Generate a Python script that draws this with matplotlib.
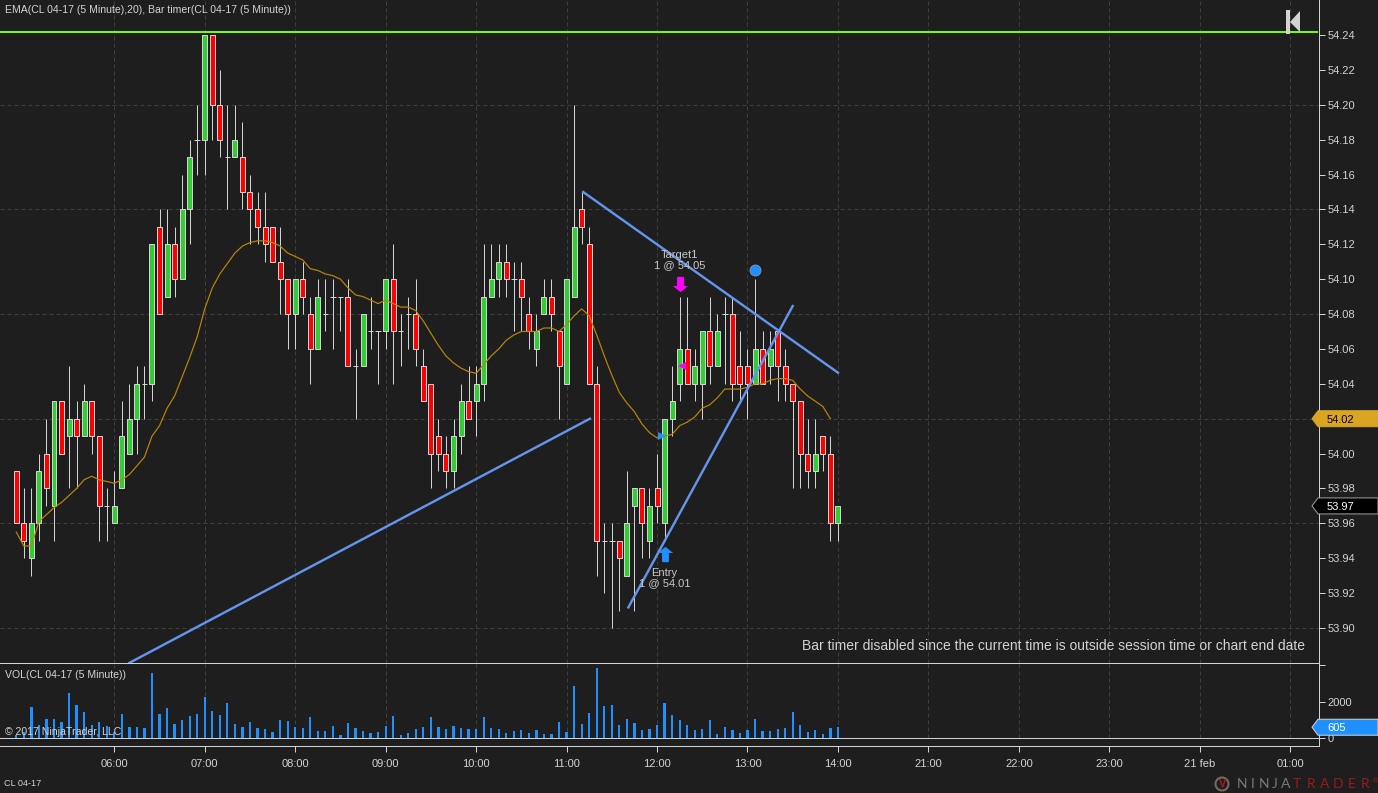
import matplotlib
matplotlib.use('Agg')
import matplotlib.pyplot as plt
from matplotlib.path import Path
from matplotlib.patches import Polygon, Rectangle, Ellipse

plt.rcParams['font.family'] = ['Liberation Sans', 'DejaVu Sans']

# 5 minute bars, first bar is 04:55
opens = [53.99, 53.96, 53.94, 53.96, 54.00, 53.97, 54.03, 54.01, 54.02, 54.01,
         54.03, 54.01, 53.97, 53.96, 53.98, 54.00, 54.02, 54.04, 54.04, 54.13,
         54.09, 54.12, 54.10, 54.14, 54.18, 54.18, 54.24, 54.20, 54.17, 54.17,
         54.17, 54.15, 54.14, 54.13, 54.13, 54.11, 54.10, 54.08, 54.10, 54.08,
         54.06, 54.08, 54.09, 54.09, 54.09, 54.05, 54.05, 54.07, 54.07, 54.07,
         54.10, 54.07, 54.08, 54.08, 54.05, 54.04, 54.01, 54.00, 53.99, 54.01,
         54.03, 54.03, 54.04, 54.09, 54.10, 54.11, 54.10, 54.10, 54.08, 54.06,
         54.08, 54.09, 54.07, 54.04, 54.09, 54.14, 54.12, 54.04, 53.95, 53.95,
         53.95, 53.93, 53.97, 53.98, 53.95, 53.98, 53.96, 54.02, 54.04, 54.06,
         54.04, 54.04, 54.07, 54.05, 54.08, 54.08, 54.05, 54.05, 54.04, 54.06,
         54.05, 54.07, 54.05, 54.04, 54.03, 54.00, 53.99, 54.01, 54.00, 53.96]
closes = [53.96, 53.95, 53.96, 53.99, 53.98, 54.03, 54.00, 54.02, 54.01, 54.03,
          54.01, 53.97, 53.97, 53.97, 54.01, 54.02, 54.04, 54.04, 54.12, 54.08,
          54.12, 54.10, 54.14, 54.17, 54.18, 54.24, 54.20, 54.18, 54.17, 54.18,
          54.15, 54.14, 54.13, 54.12, 54.11, 54.10, 54.08, 54.10, 54.09, 54.06,
          54.09, 54.08, 54.09, 54.09, 54.05, 54.05, 54.08, 54.07, 54.07, 54.10,
          54.07, 54.07, 54.08, 54.06, 54.03, 54.00, 54.00, 53.99, 54.01, 54.03,
          54.02, 54.04, 54.09, 54.10, 54.11, 54.10, 54.10, 54.09, 54.07, 54.07,
          54.09, 54.08, 54.05, 54.10, 54.13, 54.13, 54.04, 53.95, 53.95, 53.95,
          53.94, 53.96, 53.98, 53.96, 53.97, 53.97, 54.02, 54.03, 54.06, 54.04,
          54.05, 54.07, 54.05, 54.07, 54.08, 54.04, 54.04, 54.04, 54.06, 54.04,
          54.06, 54.05, 54.04, 54.03, 54.00, 53.99, 54.00, 54.00, 53.96, 53.97]
highs = [53.99, 53.98, 53.98, 54.00, 54.02, 54.03, 54.03, 54.05, 54.03, 54.04,
         54.03, 54.01, 53.98, 53.99, 54.03, 54.04, 54.05, 54.05, 54.12, 54.14,
         54.14, 54.13, 54.16, 54.18, 54.20, 54.24, 54.24, 54.22, 54.20, 54.20,
         54.19, 54.16, 54.15, 54.15, 54.13, 54.13, 54.10, 54.10, 54.11, 54.09,
         54.10, 54.10, 54.10, 54.09, 54.10, 54.06, 54.08, 54.09, 54.07, 54.10,
         54.12, 54.08, 54.09, 54.10, 54.06, 54.04, 54.02, 54.01, 54.02, 54.04,
         54.05, 54.05, 54.12, 54.12, 54.12, 54.12, 54.11, 54.11, 54.09, 54.08,
         54.10, 54.10, 54.07, 54.10, 54.20, 54.15, 54.13, 54.05, 53.96, 53.96,
         53.95, 53.99, 53.98, 53.98, 53.98, 54.00, 54.02, 54.05, 54.09, 54.09,
         54.06, 54.07, 54.09, 54.08, 54.09, 54.09, 54.07, 54.06, 54.10, 54.07,
         54.07, 54.07, 54.06, 54.04, 54.03, 54.02, 54.02, 54.01, 54.01, 53.97]
lows = [53.96, 53.94, 53.93, 53.95, 53.97, 53.95, 54.00, 53.98, 53.98, 54.01,
        54.00, 53.95, 53.95, 53.96, 53.98, 54.00, 54.00, 54.02, 54.03, 54.08,
        54.09, 54.09, 54.10, 54.12, 54.16, 54.16, 54.18, 54.17, 54.14, 54.17,
        54.14, 54.12, 54.12, 54.11, 54.11, 54.08, 54.06, 54.06, 54.08, 54.04,
        54.06, 54.07, 54.06, 54.07, 54.05, 54.02, 54.05, 54.06, 54.04, 54.06,
        54.04, 54.05, 54.06, 54.05, 54.03, 53.98, 53.99, 53.98, 53.98, 54.00,
        54.02, 54.01, 54.03, 54.09, 54.09, 54.09, 54.07, 54.07, 54.06, 54.05,
        54.08, 54.07, 54.02, 54.04, 54.09, 54.12, 54.04, 53.93, 53.92, 53.90,
        53.91, 53.93, 53.91, 53.94, 53.94, 53.96, 53.95, 54.01, 54.03, 54.04,
        54.03, 54.02, 54.04, 54.05, 54.04, 54.03, 54.03, 54.02, 54.04, 54.04,
        54.04, 54.03, 54.03, 53.98, 53.98, 53.98, 53.98, 53.99, 53.95, 53.95]
volume = [180, 360, 1710, 730, 1055, 1055, 890, 2475, 1820, 1440,
          730, 890, 675, 345, 1330, 620, 620, 565, 3570, 1330,
          1655, 780, 1000, 1220, 1330, 2255, 1490, 1275, 1930, 780,
          620, 890, 565, 510, 345, 1000, 945, 620, 565, 1165,
          400, 400, 675, 180, 835, 565, 400, 290, 345, 675,
          1220, 180, 290, 510, 620, 1165, 620, 510, 675, 565,
          510, 510, 1165, 565, 510, 290, 400, 455, 290, 455,
          235, 235, 890, 345, 2855, 780, 1385, 3840, 1765, 1820,
          730, 1055, 835, 455, 510, 730, 1930, 1275, 1000, 730,
          455, 510, 1000, 235, 620, 455, 290, 455, 1055, 400,
          400, 510, 565, 1440, 730, 345, 455, 235, 565, 605]
ema = [53.955, 53.947, 53.947, 53.961, 53.965, 53.969, 53.972, 53.976, 53.980, 53.985,
       53.987, 53.985, 53.984, 53.983, 53.985, 53.988, 53.993, 53.998, 54.010, 54.016,
       54.026, 54.033, 54.044, 54.055, 54.067, 54.083, 54.095, 54.103, 54.109, 54.115,
       54.119, 54.121, 54.122, 54.122, 54.121, 54.119, 54.115, 54.113, 54.111, 54.106,
       54.105, 54.103, 54.102, 54.100, 54.095, 54.091, 54.090, 54.088, 54.086, 54.088,
       54.086, 54.084, 54.084, 54.082, 54.076, 54.069, 54.062, 54.056, 54.052, 54.049,
       54.047, 54.046, 54.051, 54.056, 54.060, 54.065, 54.068, 54.070, 54.070, 54.070,
       54.072, 54.072, 54.070, 54.074, 54.079, 54.083, 54.079, 54.068, 54.056, 54.045,
       54.035, 54.029, 54.024, 54.017, 54.012, 54.009, 54.010, 54.011, 54.016, 54.018,
       54.021, 54.026, 54.028, 54.032, 54.037, 54.037, 54.037, 54.038, 54.040, 54.040,
       54.042, 54.043, 54.043, 54.042, 54.037, 54.033, 54.030, 54.027, 54.020]

xtick_bars = [13, 25, 37, 49, 61, 73, 85, 97, 109, 121, 133, 145, 157, 169]
xtick_labels = ['06:00', '07:00', '08:00', '09:00', '10:00', '11:00', '12:00', '13:00', '14:00',
                '21:00', '22:00', '23:00', '21 feb', '01:00']
price_ticks = [53.90, 53.92, 53.94, 53.96, 53.98, 54.00, 54.02, 54.04, 54.06, 54.08, 54.10,
               54.12, 54.14, 54.16, 54.18, 54.20, 54.22, 54.24]
grid_prices = [53.90, 53.96, 54.02, 54.08, 54.14, 54.20]

# drawing objects on the chart
green_level = 54.2417
line_a_x, line_a_y = [15.0, 76.1], [53.880, 54.020]
line_b_x, line_b_y = [75.2, 109.0], [54.150, 54.0464]
line_c_x, line_c_y = [81.2, 103.0], [53.9118, 54.0846]
dot_x, dot_y = 98, 54.105
target_x, target_y = 88, 54.0972
entry_x, entry_y = 86, 53.9427
fill_target_x, fill_target_y = 88.3, 54.05
fill_entry_x, fill_entry_y = 85.6, 54.01

BG = '#1e1e1e'
GRID = '#3e3e3e'
FG = '#d3d3d3'
W, H = 1378, 793
PX = 0.72  # one pixel in points at dpi 100
SPLIT = 663  # pixel row between the two panes


def fx(x):
    return x / W


def fy(y):
    return 1 - y / H


def bar_xlim():
    return (0 - 16.3) / 7.538, (1318.5 - 16.3) / 7.538


fig = plt.figure(figsize=(13.78, 7.93), dpi=100, facecolor=BG)
ax = fig.add_axes([0, fy(SPLIT), fx(1318.5), SPLIT / H], facecolor=BG)
vol = fig.add_axes([0, fy(746), fx(1318.5), (746 - SPLIT) / H], facecolor=BG)

# price pane
ax.set_xlim(*bar_xlim())
ax.set_ylim(54.24 - (SPLIT - 35) / 1744.1, 54.24 + 35 / 1744.1)
vol.set_xlim(*bar_xlim())
vol.set_ylim(-421, 4115)

for y in grid_prices:
    ax.axhline(y, color=GRID, lw=1 * PX, ls=(0, (4, 3)), zorder=1)
for x in xtick_bars:
    ax.axvline(x, color=GRID, lw=1 * PX, ls=(0, (4, 3)), zorder=1)
    vol.plot([x, x], [0, 4115], color=GRID, lw=1 * PX, ls=(0, (4, 3)), zorder=1)

for i in range(len(opens)):
    o, h, l, c = opens[i], highs[i], lows[i], closes[i]
    ax.vlines(i, l, h, color=FG, lw=1 * PX, zorder=2, snap=True)
    if o == c:
        ax.hlines(o, i - 0.36, i + 0.36, color=FG, lw=1 * PX, zorder=2, snap=True)
    else:
        col = '#32cd32' if c > o else '#ff0000'
        ax.bar(i, abs(c - o), bottom=min(o, c), width=0.66, color=col,
               edgecolor=FG, linewidth=1 * PX, zorder=3)

ax.plot(range(len(ema)), ema, color='#b8860b', lw=1.2 * PX, zorder=4)
ax.axhline(green_level, color='#7cfc00', lw=2 * PX, xmax=0.9985, zorder=4)

for xs, ys in [(line_a_x, line_a_y), (line_b_x, line_b_y), (line_c_x, line_c_y)]:
    ax.plot(xs, ys, color='#6495ed', lw=2.4 * PX, zorder=5)

ax.plot([dot_x], [dot_y], 'o', color='#1e90ff', mec='#9a9a9a', mew=0.5, ms=8, zorder=6)

arrow_up = Path([(-1, 0.2), (0, 1), (1, 0.2), (0.45, 0.2), (0.45, -1), (-0.45, -1), (-0.45, 0.2), (-1, 0.2)])
arrow_down = Path([(-1, -0.2), (0, -1), (1, -0.2), (0.45, -0.2), (0.45, 1), (-0.45, 1), (-0.45, -0.2), (-1, -0.2)])
ax.plot([target_x], [target_y], marker=arrow_down, color='#ff00ff', mew=0, ms=11, zorder=6)
ax.plot([entry_x], [entry_y], marker=arrow_up, color='#1e90ff', mew=0, ms=11, zorder=6)
ax.plot([fill_target_x], [fill_target_y], marker='<', color='#ff00ff', mew=0, ms=6, zorder=6)
ax.plot([fill_entry_x], [fill_entry_y], marker='>', color='#1e90ff', mew=0, ms=6, zorder=6)

ax.text(target_x, 54.111, 'Target1\n1 @ 54.05', color='#c8c8c8', fontsize=8, ha='center', va='center',
        linespacing=1.1, zorder=7)
ax.text(entry_x, 53.9287, 'Entry\n1 @ 54.01', color='#c8c8c8', fontsize=8, ha='center', va='center',
        linespacing=1.1, zorder=7)

ax.set_yticks(price_ticks)
ax.set_yticklabels(['%.2f' % p for p in price_ticks])
ax.yaxis.tick_right()
ax.set_xticks([])
ax.tick_params(axis='y', colors=FG, length=4.2, width=1 * PX, pad=2.5, labelsize=8)
for s in ['left', 'top', 'bottom']:
    ax.spines[s].set_visible(False)
ax.spines['right'].set_color(FG)
ax.spines['right'].set_linewidth(1 * PX)

# volume pane
vol.bar(range(len(volume)), volume, width=0.3, color='#1e90ff', zorder=3)
vol.axhline(0, color=FG, lw=1 * PX, zorder=4)
vol.set_yticks([0, 2000, 4000])
vol.set_yticklabels(['0', '2000', ''])
vol.yaxis.tick_right()
vol.set_xticks(xtick_bars)
vol.set_xticklabels(xtick_labels)
vol.tick_params(axis='y', colors=FG, length=4.2, width=1 * PX, pad=2.5, labelsize=8)
vol.tick_params(axis='x', colors=FG, length=4.2, width=1 * PX, pad=5.5, labelsize=8)
vol.spines['left'].set_visible(False)
for s in ['right', 'bottom', 'top']:
    vol.spines[s].set_color(FG)
    vol.spines[s].set_linewidth(1 * PX)


# price tags on the right side
def tag(axis, value, label, face, edge, txt):
    y = H - axis.transData.transform((0, value))[1]
    pts = [(1312, y), (1318, y - 8), (1378, y - 8), (1378, y + 8), (1318, y + 8)]
    fig.add_artist(Polygon([(fx(a), fy(b)) for a, b in pts], closed=True, facecolor=face,
                           edgecolor=edge, lw=1 * PX, transform=fig.transFigure, zorder=8))
    fig.text(fx(1327), fy(y), label, color=txt, fontsize=8, va='center_baseline', ha='left', zorder=9)


tag(ax, ema[-1], '54.02', '#daa520', '#daa520', '#000000')
tag(ax, closes[-1], '53.97', '#000000', '#a0a0a0', '#ffffff')
tag(vol, volume[-1], '605', '#1e90ff', '#d3d3d3', '#ffffff')

# captions
fig.text(fx(5), fy(10), 'EMA(CL 04-17 (5 Minute),20), Bar timer(CL 04-17 (5 Minute))', color=FG,
         fontsize=7.6, va='center')
fig.text(fx(1305), fy(646.5), 'Bar timer disabled since the current time is outside session time or chart end date',
         color=FG, fontsize=10, va='center', ha='right', zorder=9)
fig.text(fx(5), fy(675), 'VOL(CL 04-17 (5 Minute))', color=FG, fontsize=7.6, va='center', zorder=9)
fig.text(fx(5), fy(732), '\u00a9 2017 NinjaTrader, LLC', color=FG, fontsize=7.6, va='center', zorder=9)
fig.text(fx(4), fy(784), 'CL 04-17', color=FG, fontsize=6.6, va='center')

# jump-to-end button
fig.add_artist(Rectangle((fx(1286), fy(34)), 4 / W, 24 / H, color=FG, lw=0, transform=fig.transFigure, zorder=8))
fig.add_artist(Polygon([(fx(1290), fy(22)), (fx(1300), fy(11)), (fx(1300), fy(32))], closed=True, color=FG, lw=0,
                       transform=fig.transFigure, zorder=8))

# logo, letters spaced by hand
fig.add_artist(Ellipse((fx(1222), fy(784)), 13 / W, 13 / H, facecolor='none', edgecolor='#7a6a60', lw=2 * PX,
                       transform=fig.transFigure))
fig.text(fx(1223), fy(784), 'V', color='#a01c20', fontsize=8, fontweight='bold', ha='center', va='center')
for k, ch in enumerate('NINJA'):
    fig.text(fx(1242 + k * 11), fy(784.5), ch, color='#7a7a7a', fontsize=10, family='Lato',
             ha='center', va='center')
for k, ch in enumerate('TRADER'):
    fig.text(fx(1297 + k * 13.6), fy(784.5), ch, color='#9a1a1e', fontsize=10, family='Lato',
             ha='center', va='center')
fig.text(fx(1373), fy(782), '\u00ae', color='#9a1a1e', fontsize=5, va='center')

fig.savefig('out.png', dpi=100, facecolor=BG)
